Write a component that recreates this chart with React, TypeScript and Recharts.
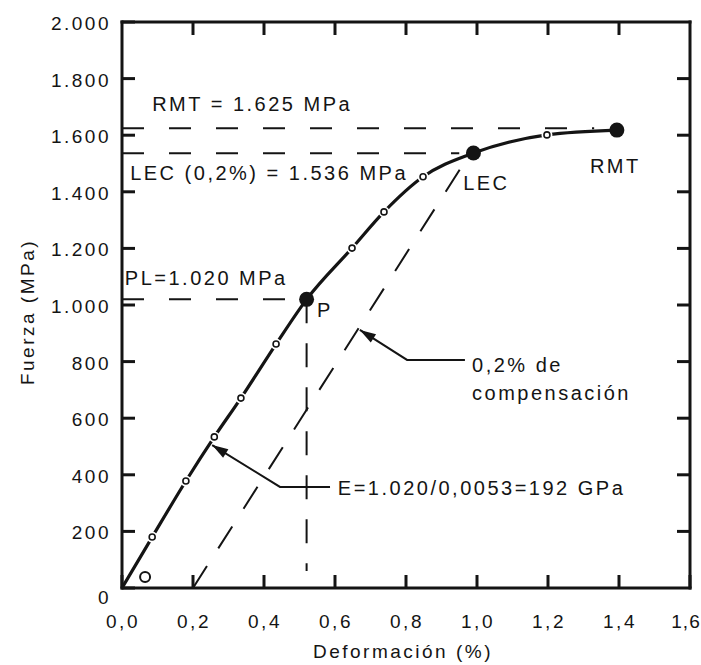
import {
  ComposedChart,
  Line,
  ReferenceDot,
  ReferenceLine,
  XAxis,
  YAxis,
} from "recharts";

// stress-strain curve (strain in %, stress in MPa)
const curveStrain = [0, 0.085, 0.18, 0.26, 0.335, 0.434, 0.52, 0.648, 0.738, 0.848, 0.99, 1.197, 1.394];
const curveStress = [0, 180, 378, 534, 671, 862, 1020, 1201, 1329, 1453, 1537, 1601, 1618];
const curveMarks = ["", "o", "o", "o", "o", "o", "big", "o", "o", "o", "big", "o", "big"];

// 0,2% offset line
const offsetStrain = [0.2, 0.97];
const offsetStress = [0, 1515];

// leader lines (tip, elbow, end)
const eLeaderStrain = [0.254, 0.445, 0.586];
const eLeaderStress = [505, 357, 357];
const compLeaderStrain = [0.67, 0.803, 0.966];
const compLeaderStress = [912, 806, 806];

// reference levels
const rmtStress = 1625;
const rmtLineEnd = 1.33;
const lecStress = 1536;
const lecLineEnd = 0.95;
const plStress = 1020;
const plStrain = 0.52;
const plDropBottom = 60;

const originMarkStrain = 0.065;
const originMarkStress = 39;

const labelText = [
  "RMT = 1.625 MPa",
  "LEC (0,2%) = 1.536 MPa",
  "PL=1.020 MPa",
  "P",
  "LEC",
  "RMT",
  "0,2% de",
  "compensación",
  "E=1.020/0,0053=192 GPa",
];
const labelStrain = [0.085, 0.023, 0.008, 0.549, 0.961, 1.318, 0.986, 0.986, 0.608];
const labelStress = [1710, 1467, 1096, 982, 1431, 1491, 788, 689, 353];

const xTicks = [0, 0.2, 0.4, 0.6, 0.8, 1.0, 1.2, 1.4, 1.6];
const yTicks = [0, 200, 400, 600, 800, 1000, 1200, 1400, 1600, 1800, 2000];
const xMax = 1.6;
const yMax = 2000;

const INK = "#141414";
const FONT = "'Liberation Sans', Arial, Helvetica, sans-serif";

const toPoints = (xs: number[], ys: number[]) => xs.map((x, i) => ({ x, y: ys[i] }));

const curveData = curveStrain.map((x, i) => ({ x, y: curveStress[i], mark: curveMarks[i] }));
const offsetData = toPoints(offsetStrain, offsetStress);
const eLeaderData = toPoints(eLeaderStrain, eLeaderStress);
const compLeaderData = toPoints(compLeaderStrain, compLeaderStress);

const fmtStrain = (v: number) => v.toFixed(1).replace(".", ",");
const fmtStress = (v: number) =>
  v >= 1000 ? `${Math.floor(v / 1000)}.${String(v % 1000).padStart(3, "0")}` : String(v);

const textStyle = { fontFamily: FONT, fill: INK, letterSpacing: 2.5 };
const TICK_LEN = 13;

const BottomTick = (p: any) => {
  // the last label sits tight against the right edge of the figure
  const isLast = p.payload.value === xMax;
  return (
    <g>
      <line x1={p.x} y1={p.y} x2={p.x} y2={p.y - TICK_LEN} stroke={INK} strokeWidth={3} />
      <text
        x={isLast ? p.x - 4 : p.x + 1}
        y={p.y + 40}
        textAnchor="middle"
        fontSize={19}
        {...textStyle}
        letterSpacing={isLast ? 1 : 2.5}
      >
        {fmtStrain(p.payload.value)}
      </text>
    </g>
  );
};

const LeftTick = (p: any) => (
  <g>
    <line x1={p.x} y1={p.y} x2={p.x + TICK_LEN} y2={p.y} stroke={INK} strokeWidth={3} />
    <text
      x={p.x - 11}
      y={p.y + (p.payload.value === 0 ? 16 : 8)}
      textAnchor="end"
      fontSize={19}
      {...textStyle}
    >
      {fmtStress(p.payload.value)}
    </text>
  </g>
);

// inward tick on the top frame edge
const TopTickShape = (p: any) => {
  const top = Math.min(p.y1, p.y2);
  return <line x1={p.x1} y1={top} x2={p.x1} y2={top + TICK_LEN} stroke={INK} strokeWidth={3} />;
};

// inward tick on the right frame edge
const RightTickShape = (p: any) => {
  const right = Math.max(p.x1, p.x2);
  return <line x1={right} y1={p.y1} x2={right - TICK_LEN} y2={p.y1} stroke={INK} strokeWidth={3} />;
};

const renderCurveDot = (p: any) => {
  const mark = p.payload?.mark;
  if (mark === "big") {
    return <circle key={`d${p.index}`} cx={p.cx} cy={p.cy} r={7.5} fill={INK} />;
  }
  if (mark === "o") {
    return (
      <g key={`d${p.index}`}>
        <circle cx={p.cx} cy={p.cy} r={5.5} fill="#fff" />
        <circle cx={p.cx} cy={p.cy} r={3} fill="#fff" stroke={INK} strokeWidth={1.6} />
      </g>
    );
  }
  return <g key={`d${p.index}`} />;
};

// arrowhead on the first point of a leader line
const renderArrowDot = (p: any) => {
  if (p.index !== 0) return <g key={`a${p.index}`} />;
  return (
    <polygon
      key={`a${p.index}`}
      points="0,0 -16,-5 -16,5"
      fill={INK}
      transform={`translate(${p.cx},${p.cy}) rotate(-148)`}
    />
  );
};

const dashStyle = { stroke: INK, strokeWidth: 2, strokeDasharray: "22 25" };

export default function App() {
  return (
    <div style={{ padding: "8px 0 0 8px" }}>
      {/* let the figure run to the right edge of the page */}
      <style>{"body{margin:0}"}</style>
      <ComposedChart
        width={693}
        height={657}
        margin={{ top: 14, right: 11, bottom: 0, left: 0 }}
      >
        <XAxis
          dataKey="x"
          type="number"
          domain={[0, xMax]}
          ticks={xTicks}
          height={77}
          tickSize={0}
          tickMargin={0}
          tickLine={false}
          tick={<BottomTick />}
          axisLine={{ stroke: INK, strokeWidth: 3, strokeLinecap: "square" }}
          allowDataOverflow
          label={{
            content: (lp: any) => {
              const vb = lp.viewBox || { x: 114, y: 580, width: 568, height: 77 };
              return (
                <text
                  x={vb.x + vb.width / 2 - 3}
                  y={vb.y + 70}
                  textAnchor="middle"
                  fontSize={19}
                  {...textStyle}
                >
                  Deformación (%)
                </text>
              );
            },
          }}
        />
        <YAxis
          type="number"
          domain={[0, yMax]}
          ticks={yTicks}
          width={114}
          tickSize={0}
          tickMargin={0}
          tickLine={false}
          tick={<LeftTick />}
          axisLine={{ stroke: INK, strokeWidth: 3, strokeLinecap: "square" }}
          allowDataOverflow
          label={{
            content: (lp: any) => {
              const vb = lp.viewBox || { x: 0, y: 14, width: 114, height: 566 };
              const cx = vb.x + 26;
              const cy = vb.y + vb.height / 2 + 7;
              return (
                <text
                  x={cx}
                  y={cy}
                  textAnchor="middle"
                  fontSize={19}
                  transform={`rotate(-90, ${cx}, ${cy})`}
                  {...textStyle}
                >
                  Fuerza (MPa)
                </text>
              );
            },
          }}
        />

        {/* top and right frame edges with inward ticks */}
        <ReferenceLine y={yMax} stroke={INK} strokeWidth={3} strokeLinecap="square" />
        <ReferenceLine x={xMax} stroke={INK} strokeWidth={3} strokeLinecap="square" />
        {xTicks.slice(1, -1).map((v) => (
          <ReferenceLine key={`tx${v}`} x={v} shape={<TopTickShape />} />
        ))}
        {yTicks.slice(1, -1).map((v) => (
          <ReferenceLine key={`ty${v}`} y={v} shape={<RightTickShape />} />
        ))}

        <ReferenceLine segment={[{ x: 0, y: rmtStress }, { x: rmtLineEnd, y: rmtStress }]} {...dashStyle} />
        <ReferenceLine segment={[{ x: 0, y: lecStress }, { x: lecLineEnd, y: lecStress }]} {...dashStyle} />
        <ReferenceLine segment={[{ x: 0, y: plStress }, { x: plStrain, y: plStress }]} {...dashStyle} />
        <ReferenceLine
          segment={[{ x: plStrain, y: plStress }, { x: plStrain, y: plDropBottom }]}
          stroke={INK}
          strokeWidth={2}
          strokeDasharray="24 20"
        />

        <Line
          data={offsetData}
          dataKey="y"
          type="linear"
          stroke={INK}
          strokeWidth={2}
          strokeDasharray="26 21"
          dot={false}
          activeDot={false}
          isAnimationActive={false}
        />
        <Line
          data={eLeaderData}
          dataKey="y"
          type="linear"
          stroke={INK}
          strokeWidth={2}
          dot={renderArrowDot}
          activeDot={false}
          isAnimationActive={false}
        />
        <Line
          data={compLeaderData}
          dataKey="y"
          type="linear"
          stroke={INK}
          strokeWidth={2}
          dot={renderArrowDot}
          activeDot={false}
          isAnimationActive={false}
        />
        <Line
          data={curveData}
          dataKey="y"
          type="monotone"
          stroke={INK}
          strokeWidth={3.2}
          dot={renderCurveDot}
          activeDot={false}
          isAnimationActive={false}
        />

        <ReferenceDot
          x={originMarkStrain}
          y={originMarkStress}
          r={5}
          fill="#fff"
          stroke={INK}
          strokeWidth={2}
        />

        {labelText.map((t, i) => (
          <ReferenceDot
            key={t}
            x={labelStrain[i]}
            y={labelStress[i]}
            r={0}
            shape={(sp: any) => (
              <text x={sp.cx} y={sp.cy + 7} fontSize={20} {...textStyle}>
                {t}
              </text>
            )}
          />
        ))}
      </ComposedChart>
    </div>
  );
}
